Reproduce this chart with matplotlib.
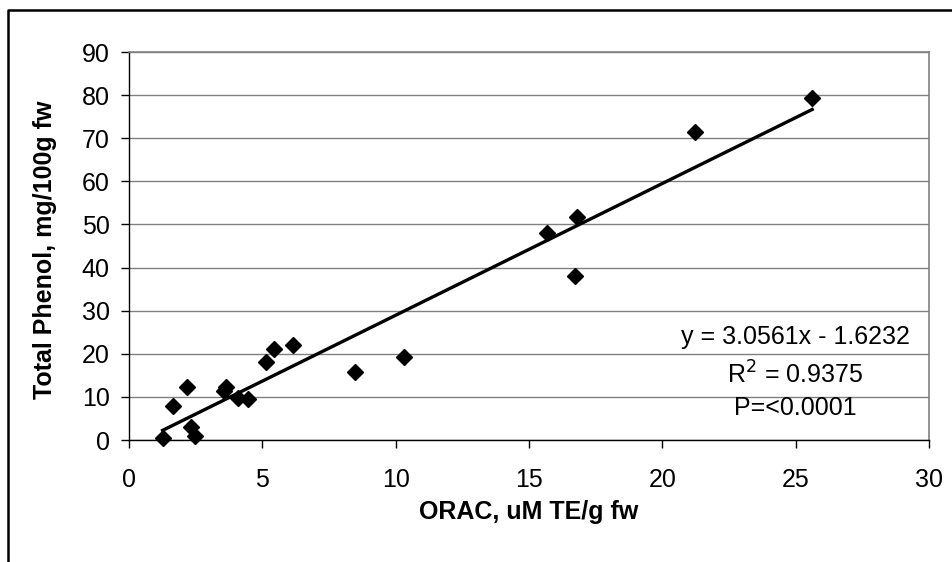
import matplotlib
matplotlib.use("Agg")
import matplotlib.pyplot as plt
from matplotlib.lines import Line2D
import numpy as np

plt.rcParams['font.family'] = ['Liberation Sans', 'DejaVu Sans']

orac = [1.26, 1.64, 2.16, 2.33, 2.47, 3.57, 3.64, 4.10, 4.47, 5.14, 5.45, 6.14,
        8.47, 10.32, 15.66, 16.72, 16.79, 21.22, 25.62]
phenol = [0.5, 8.0, 12.2, 2.9, 0.9, 11.4, 12.2, 9.7, 9.4, 18.2, 21.1, 22.0,
          15.8, 19.2, 47.9, 38.1, 51.7, 71.5, 79.4]
slope, intercept = 3.0561, -1.6232
x_ticks = [0, 5, 10, 15, 20, 25, 30]
y_ticks = [0, 10, 20, 30, 40, 50, 60, 70, 80, 90]
eq_lines = ["y = 3.0561x - 1.6232", "R$^2$ = 0.9375", "P=<0.0001"]

FS = 18
W, H = 953, 562
fig = plt.figure(figsize=(W / 100, H / 100), dpi=100)
ax = fig.add_axes([129 / W, 1 - 440 / H, 800 / W, 388 / H])

ax.set_xlim(0, 30)
ax.set_ylim(0, 90)
ax.set_xticks(x_ticks)
ax.set_yticks(y_ticks)
ax.grid(axis='y', color='#808080', linewidth=1.0)
ax.set_axisbelow(True)
for s in ['top', 'right']:
    ax.spines[s].set_color('#808080')
    ax.spines[s].set_linewidth(1.2)
for s in ['left', 'bottom']:
    ax.spines[s].set_color('black')
    ax.spines[s].set_linewidth(1.0)
ax.tick_params(direction='out', length=6, width=1, labelsize=FS)
ax.tick_params(axis='y', pad=8)
ax.tick_params(axis='x', pad=14)

ax.plot(orac, phenol, linestyle='none', marker='D', markersize=8.5,
        color='black', zorder=3, clip_on=False)
xf = np.array([min(orac), max(orac)])
ax.plot(xf, slope * xf + intercept, color='black', linewidth=2.4, zorder=4)

fig.text(529 / W, 1 - 512 / H, "ORAC, uM TE/g fw", fontsize=FS,
         fontweight='bold', ha='center', va='center')
fig.text(45 / W, 1 - 250 / H, "Total Phenol, mg/100g fw", fontsize=FS,
         fontweight='bold', ha='center', va='center', rotation=90)

ys = [337, 375, 408]
for t, yp in zip(eq_lines, ys):
    fig.text(795 / W, 1 - yp / H, t, ha='center', va='center', fontsize=FS)

fig.add_artist(Line2D([8 / W, 8 / W, 1.0], [0.0, 1 - 10 / H, 1 - 10 / H],
                      transform=fig.transFigure, color='black', linewidth=1.8))

fig.savefig("out.png", dpi=100)
